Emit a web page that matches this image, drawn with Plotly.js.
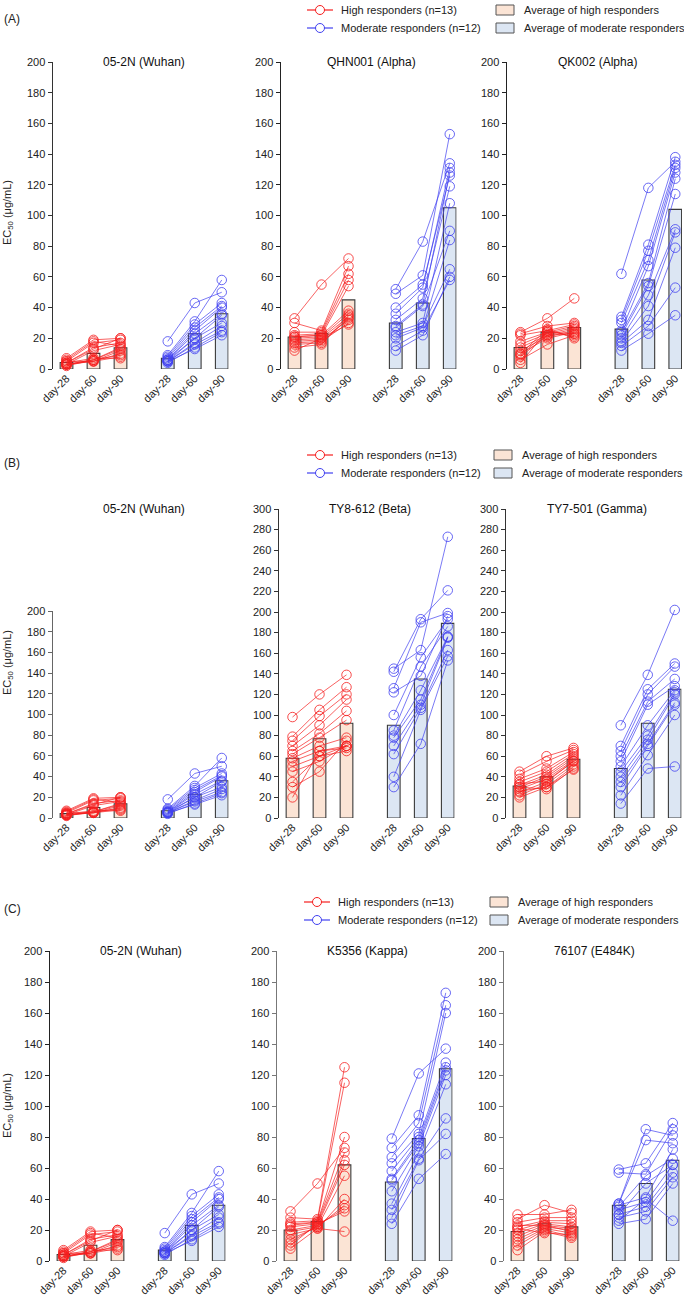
<!DOCTYPE html>
<html>
<head>
<meta charset="utf-8">
<script src="https://cdn.plot.ly/plotly-3.0.1.min.js"></script>
<style>
html,body{margin:0;padding:0;background:#fff;}
#chart{width:684px;height:1299px;}
</style>
</head>
<body>
<div id="chart"></div>
<script>
// ---------- tick labels ----------
const dayLabels = ['day-28', 'day-60', 'day-90'];

// ---------- 05-2N (Wuhan) ----------
const wuhanHigh28 = [7, 6, 5, 4, 4, 3, 3, 3, 3, 3, 2, 4, 5];
const wuhanHigh60 = [19, 18, 17, 14, 13, 12, 6, 6, 5, 5, 6, 7, 5];
const wuhanHigh90 = [20, 15, 19, 17, 20, 16, 14, 13, 12, 10, 9, 7, 8];
const wuhanMod28 = [18, 9, 8, 7, 6, 6, 5, 5, 5, 4, 5, 6];
const wuhanMod60 = [43, 31, 29, 27, 25, 23, 20, 17, 16, 14, 13, 20];
const wuhanMod90 = [50, 58, 43, 41, 40, 36, 30, 28, 25, 24, 22, 35];
const wuhanHighAvg = [4.2, 10.2, 13.8];
const wuhanModAvg = [7, 23, 36];

// ---------- QHN001 (Alpha) ----------
const qhnHigh28 = [33, 30, 24, 22, 21, 21, 20, 19, 18, 17, 16, 14, 12];
const qhnHigh60 = [55, 25, 24, 23, 22, 22, 21, 20, 19, 18, 17, 16, 20];
const qhnHigh90 = [72, 67, 62, 58, 54, 38, 36, 34, 32, 30, 33, 35, 29];
const qhnMod28 = [52, 49, 40, 36, 32, 28, 27, 24, 22, 20, 15, 12];
const qhnMod60 = [83, 61, 55, 53, 46, 42, 41, 30, 28, 27, 25, 22];
const qhnMod90 = [134, 153, 126, 131, 119, 128, 90, 108, 65, 84, 58, 60];
const qhnHighAvg = [20.8, 23.2, 45];
const qhnModAvg = [30, 43, 105];

// ---------- QK002 (Alpha) ----------
const qkHigh28 = [24, 23, 22, 18, 16, 14, 12, 10, 9, 8, 6, 4, 10];
const qkHigh60 = [33, 28, 25, 24, 23, 22, 21, 20, 24, 22, 16, 25, 26];
const qkHigh90 = [46, 30, 29, 28, 27, 26, 25, 24, 23, 23, 22, 21, 20];
const qkMod28 = [62, 34, 32, 30, 25, 24, 22, 20, 18, 17, 15, 12];
const qkMod60 = [118, 81, 77, 71, 67, 56, 54, 48, 41, 32, 28, 23];
const qkMod90 = [135, 138, 133, 131, 128, 124, 114, 91, 89, 79, 53, 35];
const qkHighAvg = [14, 24, 27];
const qkModAvg = [26, 58, 104];

// ---------- TY8-612 (Beta) ----------
const betaHigh28 = [98, 79, 75, 70, 65, 62, 58, 55, 50, 45, 35, 30, 20];
const betaHigh60 = [120, 105, 99, 90, 82, 78, 70, 65, 60, 55, 60, 45, 65];
const betaHigh90 = [139, 127, 120, 115, 104, 95, 78, 70, 65, 70, 70, 75, 68];
const betaMod28 = [145, 142, 126, 122, 100, 85, 80, 78, 70, 62, 40, 30];
const betaMod60 = [163, 193, 190, 138, 156, 147, 124, 115, 110, 107, 105, 72];
const betaMod90 = [273, 221, 199, 196, 193, 186, 176, 176, 175, 163, 157, 153];
const betaHighAvg = [58, 77, 92];
const betaModAvg = [90, 135, 189];

// ---------- TY7-501 (Gamma) ----------
const gammaHigh28 = [45, 42, 38, 35, 32, 30, 28, 25, 22, 20, 30, 33, 26];
const gammaHigh60 = [60, 55, 48, 45, 42, 40, 38, 35, 33, 30, 28, 36, 30];
const gammaHigh90 = [68, 66, 64, 62, 60, 58, 56, 55, 52, 50, 48, 55, 47];
const gammaMod28 = [90, 70, 65, 60, 55, 50, 45, 40, 35, 30, 22, 14];
const gammaMod60 = [139, 125, 120, 113, 110, 90, 80, 76, 72, 70, 61, 48];
const gammaMod90 = [202, 150, 147, 135, 128, 124, 122, 120, 112, 110, 100, 50];
const gammaHighAvg = [31, 40, 57];
const gammaModAvg = [48, 92, 125];

// ---------- K5356 (Kappa) ----------
const kappaHigh28 = [32, 28, 25, 24, 23, 22, 20, 19, 17, 14, 12, 10, 8];
const kappaHigh60 = [50, 27, 26, 25, 25, 24, 23, 22, 21, 22, 23, 24, 21];
const kappaHigh90 = [73, 125, 115, 80, 70, 65, 62, 55, 40, 36, 34, 32, 19];
const kappaMod28 = [79, 73, 67, 63, 58, 53, 52, 45, 37, 33, 28, 24];
const kappaMod60 = [121, 94, 89, 82, 80, 78, 76, 74, 70, 66, 65, 53];
const kappaMod90 = [137, 173, 165, 160, 128, 125, 123, 120, 114, 92, 82, 69];
const kappaHighAvg = [20, 25.5, 62];
const kappaModAvg = [51, 79, 124];

// ---------- 76107 (E484K) ----------
const e484High28 = [30, 27, 25, 22, 20, 18, 16, 14, 12, 10, 7, 21, 23];
const e484High60 = [30, 36, 28, 26, 25, 24, 23, 22, 21, 20, 19, 18, 23];
const e484High90 = [33, 31, 28, 26, 24, 22, 21, 20, 18, 16, 15, 17, 19];
const e484Mod28 = [59, 57, 37, 37, 36, 35, 33, 30, 30, 28, 26, 24];
const e484Mod60 = [63, 56, 85, 78, 41, 55, 38, 50, 35, 32, 40, 27];
const e484Mod90 = [89, 85, 81, 76, 72, 66, 62, 62, 57, 54, 26, 50];
const e484HighAvg = [19, 24, 22];
const e484ModAvg = [36, 50, 65];

// ---------- assemble ----------
const W = 684, H = 1299;
const fx = p => p / W;
const fy = p => 1 - p / H;

const posHigh = [0, 1, 2];
const posMod = [3.75, 4.75, 5.75];

const wuhan = {title: '05-2N (Wuhan)', hi: [wuhanHigh28, wuhanHigh60, wuhanHigh90], mo: [wuhanMod28, wuhanMod60, wuhanMod90], hiAvg: wuhanHighAvg, moAvg: wuhanModAvg};
const qhn = {title: 'QHN001 (Alpha)', hi: [qhnHigh28, qhnHigh60, qhnHigh90], mo: [qhnMod28, qhnMod60, qhnMod90], hiAvg: qhnHighAvg, moAvg: qhnModAvg};
const qk = {title: 'QK002 (Alpha)', hi: [qkHigh28, qkHigh60, qkHigh90], mo: [qkMod28, qkMod60, qkMod90], hiAvg: qkHighAvg, moAvg: qkModAvg};
const beta = {title: 'TY8-612 (Beta)', hi: [betaHigh28, betaHigh60, betaHigh90], mo: [betaMod28, betaMod60, betaMod90], hiAvg: betaHighAvg, moAvg: betaModAvg};
const gamma = {title: 'TY7-501 (Gamma)', hi: [gammaHigh28, gammaHigh60, gammaHigh90], mo: [gammaMod28, gammaMod60, gammaMod90], hiAvg: gammaHighAvg, moAvg: gammaModAvg};
const kappa = {title: 'K5356 (Kappa)', hi: [kappaHigh28, kappaHigh60, kappaHigh90], mo: [kappaMod28, kappaMod60, kappaMod90], hiAvg: kappaHighAvg, moAvg: kappaModAvg};
const e484 = {title: '76107 (E484K)', hi: [e484High28, e484High60, e484High90], mo: [e484Mod28, e484Mod60, e484Mod90], hiAvg: e484HighAvg, moAvg: e484ModAvg};

// layout geometry (pixels)
const panels = [
  {d: wuhan, x: [53, 228.5], y: [62, 369], ymax: 200, ty: 62, axc: '#333'},
  {d: qhn,   x: [281, 456.5], y: [62, 369], ymax: 200, ty: 62, axc: '#222'},
  {d: qk,    x: [507, 682], y: [62, 369], ymax: 200, ty: 62, axc: '#222'},
  {d: wuhan, x: [53, 228.5], y: [611, 818], ymax: 200, ty: 509, axc: '#666'},
  {d: beta,  x: [279, 454.5], y: [509, 818], ymax: 300, ty: 509, axc: '#333'},
  {d: gamma, x: [506, 681.5], y: [509, 818], ymax: 300, ty: 509, axc: '#333'},
  {d: wuhan, x: [50, 225.5], y: [951, 1261], ymax: 200, ty: 951, axc: '#222'},
  {d: kappa, x: [277, 452.5], y: [951, 1261], ymax: 200, ty: 951, axc: '#777'},
  {d: e484,  x: [504, 679.5], y: [951, 1261], ymax: 200, ty: 951, axc: '#777'}
];

const FONT = 'Arial, "Liberation Sans", Helvetica, sans-serif';
const RED = 'rgb(245,30,30)';
const BLUE = 'rgb(65,65,240)';
const HIFILL = 'rgb(251,228,213)';
const MOFILL = 'rgb(220,230,243)';

function seriesXY(groups, pos) {
  const xs = [], ys = [];
  const n = groups[0].length;
  for (let i = 0; i < n; i++) {
    for (let k = 0; k < 3; k++) { xs.push(pos[k]); ys.push(groups[k][i]); }
    xs.push(null); ys.push(null);
  }
  return {xs, ys};
}

const traces = [];
const layout = {
  width: W, height: H,
  margin: {l: 0, r: 0, t: 0, b: 0},
  paper_bgcolor: '#fff', plot_bgcolor: 'rgba(0,0,0,0)',
  showlegend: false,
  barmode: 'overlay',
  font: {family: FONT, size: 11, color: '#222'},
  annotations: [],
  shapes: []
};

panels.forEach((p, i) => {
  const n = i + 1;
  const xa = 'x' + (n === 1 ? '' : n), ya = 'y' + (n === 1 ? '' : n);
  const xk = 'xaxis' + (n === 1 ? '' : n), yk = 'yaxis' + (n === 1 ? '' : n);
  layout[xk] = {
    domain: [fx(p.x[0]), fx(p.x[1])], anchor: ya, range: [-0.5, 6.0],
    showline: false, showgrid: false, zeroline: false, ticks: '',
    tickvals: posHigh.concat(posMod), ticktext: dayLabels.concat(dayLabels),
    tickangle: -45, tickfont: {family: FONT, size: 11, color: '#222'}, fixedrange: true
  };
  layout[yk] = {
    domain: [fy(p.y[1]), fy(p.y[0])], anchor: xa, range: [0, p.ymax],
    showline: true, linecolor: p.axc, linewidth: 1.5, ticks: 'outside', ticklen: 4,
    tickcolor: p.axc, tickwidth: 1, dtick: 20, showgrid: false, zeroline: false,
    tickfont: {family: FONT, size: 11, color: '#222'}, fixedrange: true
  };
  traces.push({type: 'bar', x: posHigh, y: p.d.hiAvg, width: 0.47, xaxis: xa, yaxis: ya,
    marker: {color: HIFILL, line: {color: '#3a3a3a', width: 1.1}}, hoverinfo: 'skip'});
  traces.push({type: 'bar', x: posMod, y: p.d.moAvg, width: 0.47, xaxis: xa, yaxis: ya,
    marker: {color: MOFILL, line: {color: '#3a3a3a', width: 1.1}}, hoverinfo: 'skip'});
  const h = seriesXY(p.d.hi, posHigh);
  traces.push({type: 'scatter', mode: 'lines+markers', x: h.xs, y: h.ys, xaxis: xa, yaxis: ya,
    connectgaps: false, cliponaxis: false,
    line: {color: RED, width: 0.7},
    marker: {symbol: 'circle-open', size: 9.5, color: RED, line: {width: 0.8, color: RED}}});
  const m = seriesXY(p.d.mo, posMod);
  traces.push({type: 'scatter', mode: 'lines+markers', x: m.xs, y: m.ys, xaxis: xa, yaxis: ya,
    connectgaps: false, cliponaxis: false,
    line: {color: BLUE, width: 0.7},
    marker: {symbol: 'circle-open', size: 9.5, color: BLUE, line: {width: 0.8, color: BLUE}}});
  // panel title
  layout.annotations.push({xref: 'paper', yref: 'paper', x: fx((p.x[0] + p.x[1]) / 2 + 3), y: fy(p.ty),
    xanchor: 'center', yanchor: 'middle', text: p.d.title, showarrow: false,
    font: {family: FONT, size: 12, color: '#111'}});
});

// y-axis titles
[[213], [663], [1106]].forEach(([cy]) => {
  layout.annotations.push({xref: 'paper', yref: 'paper', x: fx(8), y: fy(cy), xanchor: 'center', yanchor: 'middle',
    text: 'EC<sub>50</sub> (μg/mL)', textangle: -90, showarrow: false, font: {family: FONT, size: 11, color: '#222'}});
});

// row labels
[['(A)', 19], ['(B)', 463], ['(C)', 909]].forEach(([t, cy]) => {
  layout.annotations.push({xref: 'paper', yref: 'paper', x: fx(2), y: fy(cy), xanchor: 'left', yanchor: 'middle',
    text: t, showarrow: false, font: {family: FONT, size: 12, color: '#222'}});
});

// legends (one per row)
const legendRows = [
  {y1: 10, y2: 28, lx: 307, bx: 496},
  {y1: 455, y2: 473, lx: 307, bx: 494},
  {y1: 902, y2: 920, lx: 304, bx: 490}
];
legendRows.forEach(L => {
  [[L.y1, RED, 'High responders (n=13)', HIFILL, 'Average of high responders'],
   [L.y2, BLUE, 'Moderate responders (n=12)', MOFILL, 'Average of moderate responders']].forEach(([yy, col, txt, fill, txt2]) => {
    layout.shapes.push({type: 'line', xref: 'paper', yref: 'paper', x0: fx(L.lx), x1: fx(L.lx + 26), y0: fy(yy), y1: fy(yy),
      line: {color: col, width: 1.2}});
    layout.shapes.push({type: 'circle', xref: 'paper', yref: 'paper', x0: fx(L.lx + 8.5), x1: fx(L.lx + 17.5), y0: fy(yy + 4.5), y1: fy(yy - 4.5),
      fillcolor: '#fff', line: {color: col, width: 1}});
    layout.annotations.push({xref: 'paper', yref: 'paper', x: fx(L.lx + 32), y: fy(yy), xanchor: 'left', yanchor: 'middle',
      text: txt, showarrow: false, font: {family: FONT, size: 11, color: '#222'}});
    layout.shapes.push({type: 'rect', xref: 'paper', yref: 'paper', x0: fx(L.bx), x1: fx(L.bx + 18), y0: fy(yy + 5), y1: fy(yy - 5),
      fillcolor: fill, line: {color: '#555', width: 1}});
    layout.annotations.push({xref: 'paper', yref: 'paper', x: fx(L.bx + 26), y: fy(yy), xanchor: 'left', yanchor: 'middle',
      text: txt2, showarrow: false, font: {family: FONT, size: 11, color: '#222'}});
  });
});

Plotly.newPlot('chart', traces, layout, {staticPlot: true, displayModeBar: false});
</script>
</body>
</html>
